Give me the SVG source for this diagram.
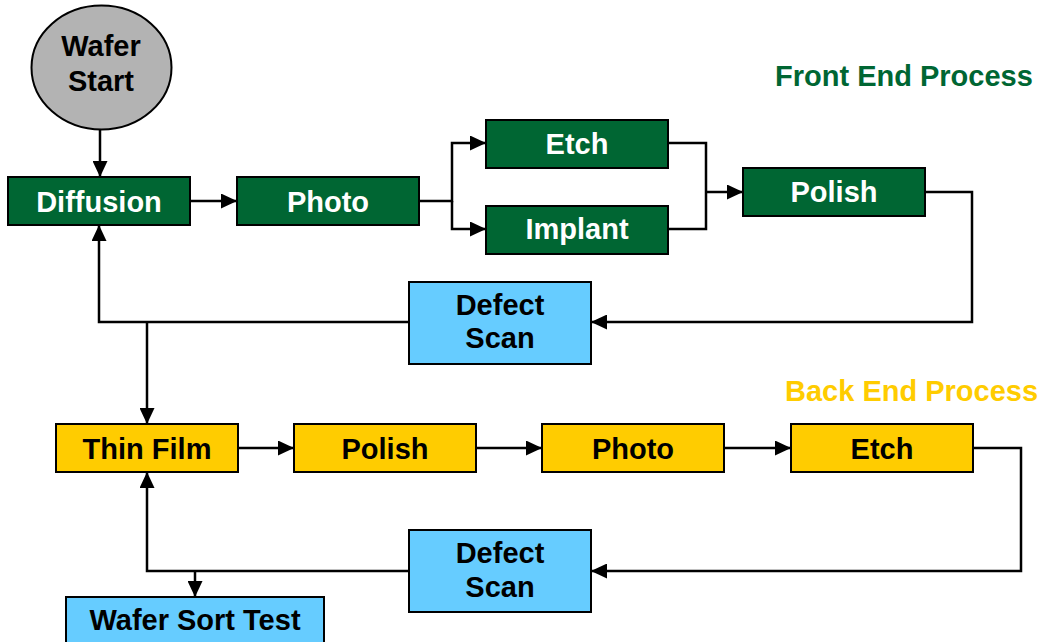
<svg xmlns="http://www.w3.org/2000/svg" width="1044" height="642" viewBox="0 0 1044 642">
<style>
text{font-family:"Liberation Sans",Arial,sans-serif;font-weight:bold;font-size:29px;text-anchor:middle}
.box{stroke:#000;stroke-width:2}
.fe{fill:#006633}
.be{fill:#FFCC00}
.ds{fill:#66CCFF}
.wt{fill:#fff}
.bt{fill:#000}
.c{fill:none;stroke:#000;stroke-width:2.5}
</style>
<defs>
<marker id="ah" markerUnits="userSpaceOnUse" markerWidth="16" markerHeight="15" refX="16" refY="7.5" orient="auto">
<path d="M0,0 L16,7.5 L0,15 z" fill="#000"/>
</marker>
</defs>
<g id="connectors">
<path class="c" d="M100,130 V177" marker-end="url(#ah)"/>
<path class="c" d="M190,201 H237" marker-end="url(#ah)"/>
<path class="c" d="M419,201 H452 V143 H486" marker-end="url(#ah)"/>
<path class="c" d="M452,201 V229 H486" marker-end="url(#ah)"/>
<path class="c" d="M668,143 H706 V229 H668"/>
<path class="c" d="M706,192 H743" marker-end="url(#ah)"/>
<path class="c" d="M925,192 H972 V322 H591" marker-end="url(#ah)"/>
<path class="c" d="M409,322 H99 V225" marker-end="url(#ah)"/>
<path class="c" d="M147,322 V424" marker-end="url(#ah)"/>
<path class="c" d="M238,448 H294" marker-end="url(#ah)"/>
<path class="c" d="M476,448 H542" marker-end="url(#ah)"/>
<path class="c" d="M724,448 H791" marker-end="url(#ah)"/>
<path class="c" d="M973,448 H1021 V571 H591" marker-end="url(#ah)"/>
<path class="c" d="M409,571 H147 V472" marker-end="url(#ah)"/>
<path class="c" d="M195,571 V597" marker-end="url(#ah)"/>
</g>
<g id="wafer-start">
<ellipse cx="101.5" cy="67.5" rx="70" ry="62" fill="#B3B3B3" stroke="#000" stroke-width="2"/>
<text x="101" y="56" class="bt">Wafer</text>
<text x="101" y="91" class="bt">Start</text>
</g>
<g id="diffusion"><rect class="box fe" x="8" y="177" width="182" height="48"/><text x="99" y="212" class="wt">Diffusion</text></g>
<g id="photo-fe"><rect class="box fe" x="237" y="177" width="182" height="48"/><text x="328" y="212" class="wt">Photo</text></g>
<g id="etch-fe"><rect class="box fe" x="486" y="120" width="182" height="48"/><text x="577" y="154" class="wt">Etch</text></g>
<g id="implant"><rect class="box fe" x="486" y="206" width="182" height="48"/><text x="577" y="239" class="wt">Implant</text></g>
<g id="polish-fe"><rect class="box fe" x="743" y="168" width="182" height="48"/><text x="834" y="202" class="wt">Polish</text></g>
<g id="defect-scan-1"><rect class="box ds" x="409" y="282" width="182" height="82"/><text x="500" y="315" class="bt">Defect</text><text x="500" y="348" class="bt">Scan</text></g>
<g id="thin-film"><rect class="box be" x="56" y="424" width="182" height="48"/><text x="147" y="459" class="bt">Thin Film</text></g>
<g id="polish-be"><rect class="box be" x="294" y="424" width="182" height="48"/><text x="385" y="459" class="bt">Polish</text></g>
<g id="photo-be"><rect class="box be" x="542" y="424" width="182" height="48"/><text x="633" y="459" class="bt">Photo</text></g>
<g id="etch-be"><rect class="box be" x="791" y="424" width="182" height="48"/><text x="882" y="459" class="bt">Etch</text></g>
<g id="defect-scan-2"><rect class="box ds" x="409" y="530" width="182" height="82"/><text x="500" y="563" class="bt">Defect</text><text x="500" y="597" class="bt">Scan</text></g>
<g id="wafer-sort-test"><rect class="box ds" x="66" y="597" width="258" height="50"/><text x="195" y="630" class="bt">Wafer Sort Test</text></g>
<g id="labels">
<text x="775" y="86" style="text-anchor:start;fill:#006633">Front End Process</text>
<text x="785" y="401" style="text-anchor:start;fill:#FFCC00">Back End Process</text>
</g>
</svg>
